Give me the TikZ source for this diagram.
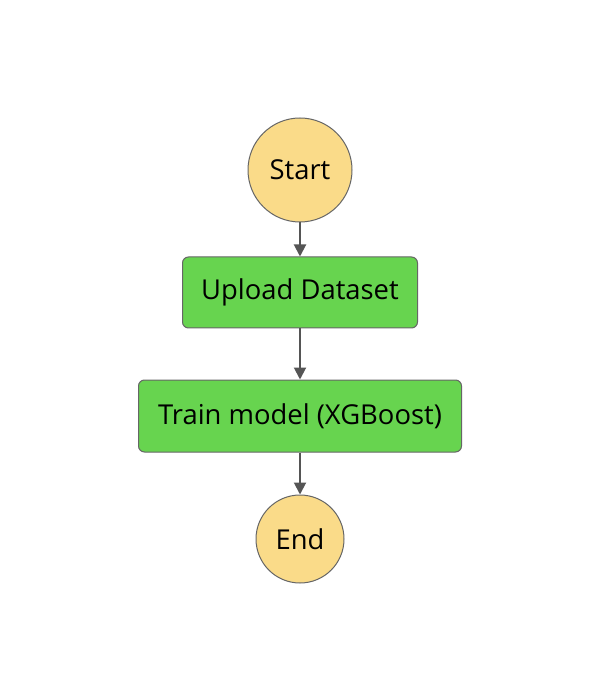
\documentclass[tikz,border=0pt]{standalone}
\usepackage{fontspec}
\setmainfont{Open Sans}
\usetikzlibrary{arrows.meta}
\definecolor{startfill}{RGB}{250,219,137}
\definecolor{taskfill}{RGB}{103,212,79}
\definecolor{edgegray}{RGB}{102,102,102}
\definecolor{arrowgray}{RGB}{85,85,85}
\tikzset{
  terminal/.style={circle, draw=edgegray, fill=startfill, line width=0.5pt, inner sep=0pt, font=\fontsize{13.7}{16}\selectfont},
  task/.style={rectangle, rounded corners=3pt, draw=edgegray, fill=taskfill, line width=0.5pt, inner sep=0pt, font=\fontsize{13.7}{16}\selectfont},
  flow/.style={-{Triangle[length=6pt, width=6pt]}, draw=arrowgray, line width=1pt}
}
\begin{document}
\begin{tikzpicture}[x=0.5pt, y=-0.5pt]
        \useasboundingbox[fill=white] (0, 0) rectangle (614, 694);
        \node[terminal, minimum size=52pt] (start) at (300, 170) {Start};
        \node[task, minimum width=117.5pt, minimum height=35.5pt] (upload) at (300, 292.5) {Upload Dataset};
        \node[task, minimum width=161.5pt, minimum height=36pt] (train) at (300, 416) {Train model (XGBoost)};
        \node[terminal, minimum size=44pt] (end) at (300, 539) {End};

        \draw[flow] (start) -- (upload);
        \draw[flow] (upload) -- (train);
        \draw[flow] (train) -- (end);
    \end{tikzpicture}
\end{document}
